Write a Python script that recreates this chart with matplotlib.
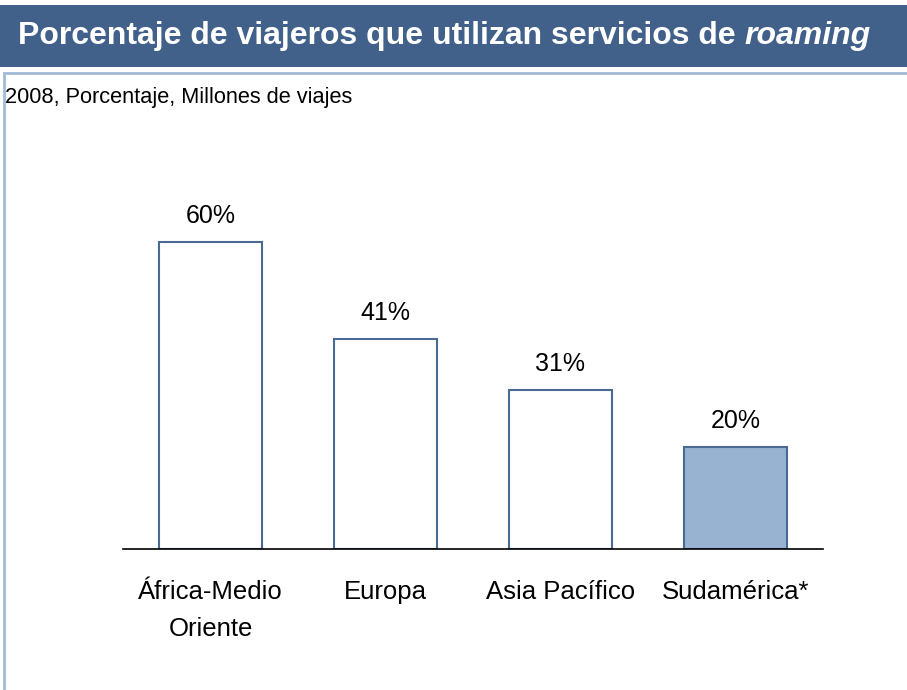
import matplotlib
matplotlib.use("Agg")
import matplotlib.pyplot as plt
from matplotlib.patches import Rectangle
from matplotlib.lines import Line2D

categories = ["África-Medio\nOriente", "Europa", "Asia Pacífico", "Sudamérica*"]
values = [60, 41, 31, 20]
value_labels = ["60%", "41%", "31%", "20%"]

W, H = 907, 690
fig = plt.figure(figsize=(W / 100, H / 100), dpi=100)
plt.rcParams['font.family'] = ['Liberation Sans', 'DejaVu Sans']

# Title bar
fig.patches.append(Rectangle((0, 1 - 67 / H), 1, 62 / H, transform=fig.transFigure,
                             facecolor="#41618A", edgecolor="none", zorder=0))
t0 = fig.text(18 / W, 1 - 36 / H, "Porcentaje de viajeros que utilizan servicios de ",
              color="white", fontsize=23, fontweight="bold", va="center", ha="left")
# frame lines
fig.add_artist(Line2D([4 / W, 4 / W], [0, 1 - 73 / H], transform=fig.transFigure,
                      color="#A3BAD8", lw=2))
fig.add_artist(Line2D([4 / W, 1], [1 - 73 / H, 1 - 73 / H], transform=fig.transFigure,
                      color="#A3BAD8", lw=2))
fig.text(5 / W, 1 - 97 / H, "2008, Porcentaje, Millones de viajes", fontsize=15.7,
         va="center", ha="left", color="black")

ax = fig.add_axes([123 / W, 1 - 549 / H, 700 / W, 340 / H])
ax.set_facecolor("none")
x = list(range(len(categories)))
colors = ["white", "white", "white", "#98B3D2"]
ax.bar(x, values, width=0.594, color=colors, edgecolor="#4A6A94", linewidth=1.5)
for xi, v, lab in zip(x, values, value_labels):
    ax.annotate(lab, (xi, v), xytext=(0, 26), textcoords="offset pixels",
                ha="center", va="center", fontsize=18)
ax.set_xlim(-0.5, 3.5)
ax.set_ylim(0, 340 / 5.12)
for s in ["left", "right", "top"]:
    ax.spines[s].set_visible(False)
ax.spines["bottom"].set_color("black")
ax.spines["bottom"].set_linewidth(1.2)
ax.set_yticks([])
ax.set_xticks(x)
ax.set_xticklabels(categories, fontsize=18.5, va="top", linespacing=1.65)
ax.tick_params(axis="x", length=0, pad=22.5)

# Title italic part
fig.canvas.draw()
r = fig.canvas.get_renderer()
bb = t0.get_window_extent(r)
fig.text(bb.x1 / W, 1 - 36 / H, "roaming", color="white", fontsize=23, fontweight="bold",
         fontstyle="italic", va="center", ha="left")

fig.savefig("out.png", dpi=100)
